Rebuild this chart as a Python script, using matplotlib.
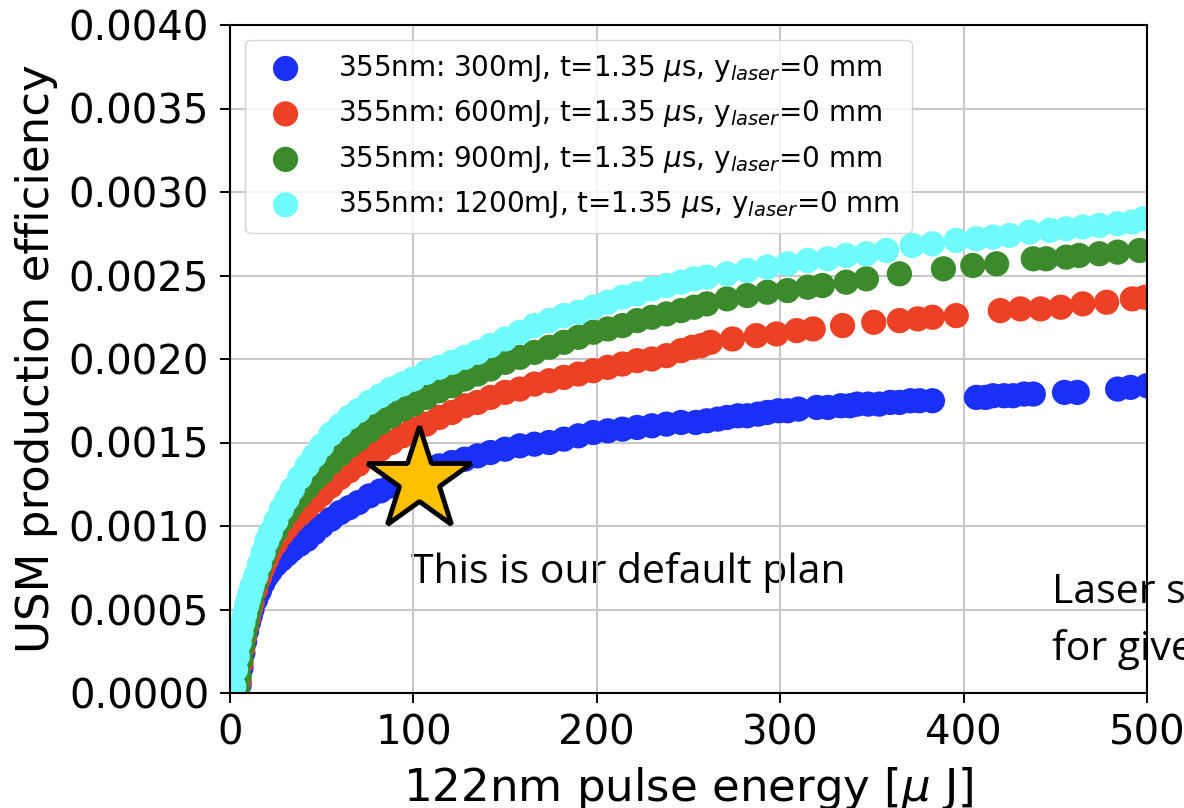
import matplotlib
matplotlib.use("Agg")
import matplotlib.pyplot as plt

# ---------------- data ----------------
labels = [
    r"355nm: 300mJ, t=1.35 $\mu$s, y$_{laser}$=0 mm",
    r"355nm: 600mJ, t=1.35 $\mu$s, y$_{laser}$=0 mm",
    r"355nm: 900mJ, t=1.35 $\mu$s, y$_{laser}$=0 mm",
    r"355nm: 1200mJ, t=1.35 $\mu$s, y$_{laser}$=0 mm",
]
colors = ["#1a30f7", "#ec4125", "#3b8a2b", "#6ffafc"]

x_blue = [5, 6, 7, 8, 9, 10, 11, 12, 14, 16, 18, 20, 22, 25, 28, 31, 34, 38, 42, 46, 50, 55, 60, 65, 70, 76, 82,
          88, 94, 100, 107, 114, 121, 128, 135, 142, 150, 158, 166, 174, 182, 190, 198, 206, 214, 222, 230, 238,
          246, 254, 260, 266, 271, 277, 282, 288, 293, 299, 304, 310, 320, 326, 333, 338, 342, 348, 354, 360,
          365, 371, 376, 383, 407, 412, 416, 422, 427, 433, 438, 455, 462, 484, 491, 500]
y_blue = [0.00005, 0.00015, 0.00024, 0.00031, 0.00037, 0.00042, 0.00046, 0.00050, 0.00056, 0.00061, 0.00066,
          0.00070, 0.00073, 0.00077, 0.00080, 0.00083, 0.00086, 0.00089, 0.00092, 0.00096, 0.00100, 0.00104,
          0.00108, 0.00111, 0.00114, 0.00118, 0.00121, 0.00124, 0.00127, 0.00130, 0.00133, 0.00136, 0.00138,
          0.00140, 0.00142, 0.00144, 0.00146, 0.00148, 0.00149, 0.00150, 0.00152, 0.00154, 0.00156, 0.00157,
          0.00158, 0.00159, 0.00160, 0.00161, 0.00162,
          0.00162, 0.00163, 0.00164, 0.00165, 0.00166, 0.00166, 0.00167, 0.00168, 0.00169, 0.00169, 0.00170,
          0.00171, 0.00171, 0.00172, 0.00172, 0.00173, 0.00173, 0.00173, 0.00174, 0.00174, 0.00175, 0.00175,
          0.00175, 0.00177, 0.00177, 0.00178, 0.00178, 0.00178, 0.00179, 0.00179, 0.00180, 0.00180, 0.00182,
          0.00183, 0.00184]

x_red = [5, 6, 7, 8, 9, 10, 11, 12, 14, 16, 18, 20, 22, 25, 28, 31, 34, 38, 42, 46, 50, 55, 60, 65, 70, 76, 82, 88,
         94, 100, 107, 114, 121, 128, 135, 142, 150, 158, 166, 174, 182, 190, 198, 206, 214, 222, 230, 238, 246,
         252, 257, 262, 274, 287, 298, 309, 318, 334, 351, 365, 375, 383, 396, 420, 431, 442, 453, 465, 478,
         492, 499]
y_red = [0.00007, 0.00018, 0.00027, 0.00034, 0.00040, 0.00045, 0.00050, 0.00054, 0.00062, 0.00069, 0.00075,
         0.00080, 0.00085, 0.00090, 0.00095, 0.00099, 0.00103, 0.00107, 0.00111, 0.00115, 0.00119, 0.00124,
         0.00129, 0.00133, 0.00137, 0.00142, 0.00146, 0.00150, 0.00154, 0.00158, 0.00161, 0.00165, 0.00168,
         0.00172, 0.00174, 0.00177, 0.00180, 0.00182, 0.00185, 0.00187, 0.00189, 0.00191, 0.00193, 0.00195,
         0.00197, 0.00199, 0.00200, 0.00202, 0.00205,
         0.00207, 0.00208, 0.00210, 0.00212, 0.00214, 0.00215, 0.00217, 0.00218, 0.00220, 0.00222, 0.00223,
         0.00224, 0.00225, 0.00226, 0.00229, 0.00230, 0.00230, 0.00231, 0.00233, 0.00234, 0.00236, 0.00237]

x_green = [4, 5, 6, 7, 8, 9, 10, 11, 12, 14, 16, 18, 20, 22, 25, 28, 31, 34, 38, 42, 46, 50, 55, 60, 65, 70, 76, 82,
           88, 94, 100, 107, 114, 121, 128, 135, 142, 150, 158, 166, 174, 182, 190, 198, 206, 214, 222, 230, 238,
           246, 253, 260, 271, 282, 293, 304, 315, 323, 336, 347, 365, 389, 405, 418, 438, 445, 456, 463, 474,
           484, 496]
y_green = [0.00003, 0.00010, 0.00020, 0.00029, 0.00036, 0.00042, 0.00048, 0.00053, 0.00058, 0.00066, 0.00074,
           0.00080, 0.00086, 0.00091, 0.00097, 0.00103, 0.00108, 0.00113, 0.00118, 0.00123, 0.00128, 0.00132,
           0.00138, 0.00143, 0.00148, 0.00152, 0.00157, 0.00162, 0.00166, 0.00170, 0.00173, 0.00177, 0.00181,
           0.00184, 0.00188, 0.00191, 0.00194, 0.00198, 0.00201, 0.00204, 0.00207, 0.00210, 0.00213, 0.00216,
           0.00218, 0.00220, 0.00223, 0.00225, 0.00227, 0.00229, 0.00231,
           0.00233, 0.00236, 0.00238, 0.00240, 0.00241, 0.00243, 0.00244, 0.00246, 0.00248, 0.00251, 0.00254,
           0.00256, 0.00257, 0.00260, 0.00260, 0.00261, 0.00262, 0.00263, 0.00264, 0.00265]

x_cyan = [2, 3, 4, 5, 6, 7, 8, 9, 10, 11, 12, 14, 16, 18, 20, 22, 25, 28, 31, 34, 38, 42, 46, 50, 55, 60, 65, 70,
          76, 82, 88, 94, 100, 107, 114, 121, 128, 135, 142, 150, 158, 166, 174, 182, 190, 198, 206, 214, 222,
          230, 238, 246, 253, 260, 271, 282, 293, 304, 315, 326, 336, 347, 358, 372, 383, 396, 407, 416, 425,
          436, 447, 456, 465, 474, 484, 492, 498]
y_cyan = [0.00004, 0.00014, 0.00022, 0.00030, 0.00036, 0.00042, 0.00047, 0.00052, 0.00056, 0.00060, 0.00064,
          0.00070, 0.00077, 0.00084, 0.00091, 0.00096, 0.00103, 0.00110, 0.00116, 0.00122, 0.00129, 0.00136,
          0.00142, 0.00148, 0.00155, 0.00160, 0.00165, 0.00169, 0.00174, 0.00178, 0.00182, 0.00185, 0.00188,
          0.00192, 0.00195, 0.00198, 0.00201, 0.00204, 0.00208, 0.00212, 0.00216, 0.00220, 0.00223, 0.00226,
          0.00228, 0.00231, 0.00234, 0.00237, 0.00239, 0.00242, 0.00244, 0.00246, 0.00248,
          0.00249, 0.00251, 0.00253, 0.00255, 0.00257, 0.00259, 0.00260, 0.00262, 0.00263, 0.00265, 0.00268,
          0.00269, 0.00271, 0.00272, 0.00273, 0.00274, 0.00276, 0.00277, 0.00278, 0.00279, 0.00280, 0.00281,
          0.00282, 0.00284]

series_x = [x_blue, x_red, x_green, x_cyan]
series_y = [y_blue, y_red, y_green, y_cyan]

star_x = [103]
star_y = [0.001275]

xticks = [0, 100, 200, 300, 400, 500]
yticks = [0.0, 0.0005, 0.0010, 0.0015, 0.0020, 0.0025, 0.0030, 0.0035, 0.0040]

annot_text = "This is our default plan"
side_text_1 = "Laser s"
side_text_2 = "for give"

# ---------------- plot ----------------
plt.rcParams["font.family"] = ["DejaVu Sans"]
fig = plt.figure(figsize=(11.84, 8.08), dpi=100)
ax = fig.add_axes([230 / 1184, 1 - 693 / 808, 917 / 1184, 668 / 808])

for xs, ys, c, lab in zip(series_x, series_y, colors, labels):
    ax.scatter(xs, ys, s=330, color=c, edgecolors="none", label=lab, zorder=2)

ax.plot(star_x, star_y, linestyle="none", marker="*", markersize=78,
        markerfacecolor="#ffc000", markeredgecolor="black", markeredgewidth=3.5,
        zorder=5, clip_on=False)

ax.set_xlim(0, 500)
ax.set_ylim(0, 0.004)
ax.set_xticks(xticks)
ax.set_yticks(yticks)
ax.set_xticklabels([str(v) for v in xticks])
ax.set_yticklabels([f"{v:.4f}" for v in yticks])
ax.tick_params(axis="both", labelsize=29, length=7, width=1.4, pad=8)
for sp in ax.spines.values():
    sp.set_linewidth(1.5)
ax.grid(True, color="#c8c8c8", linewidth=1.5)
ax.set_axisbelow("line")

ax.set_xlabel(r"122nm pulse energy [$\mu$ J]", fontsize=32.5, labelpad=8)
ax.set_ylabel("USM production efficiency", fontsize=32.5, labelpad=8)

leg = ax.legend(loc="upper left", fontsize=20, scatterpoints=1, framealpha=0.8,
                labelspacing=0.52, borderpad=0.45, handletextpad=0.9,
                bbox_to_anchor=(0.0, 1.0), borderaxespad=0.55)

ax.text(0.1974, 0.1647, annot_text, transform=ax.transAxes, fontsize=29.5,
        family="Open Sans", va="baseline", ha="left", zorder=1, clip_on=False)
ax.text(0.8964, 0.1347, side_text_1, transform=ax.transAxes, fontsize=29.5,
        family="Open Sans", va="baseline", ha="left", zorder=1, clip_on=False)
ax.text(0.8964, 0.0494, side_text_2, transform=ax.transAxes, fontsize=29.5,
        family="Open Sans", va="baseline", ha="left", zorder=1, clip_on=False)

fig.savefig("out.png", dpi=100)
